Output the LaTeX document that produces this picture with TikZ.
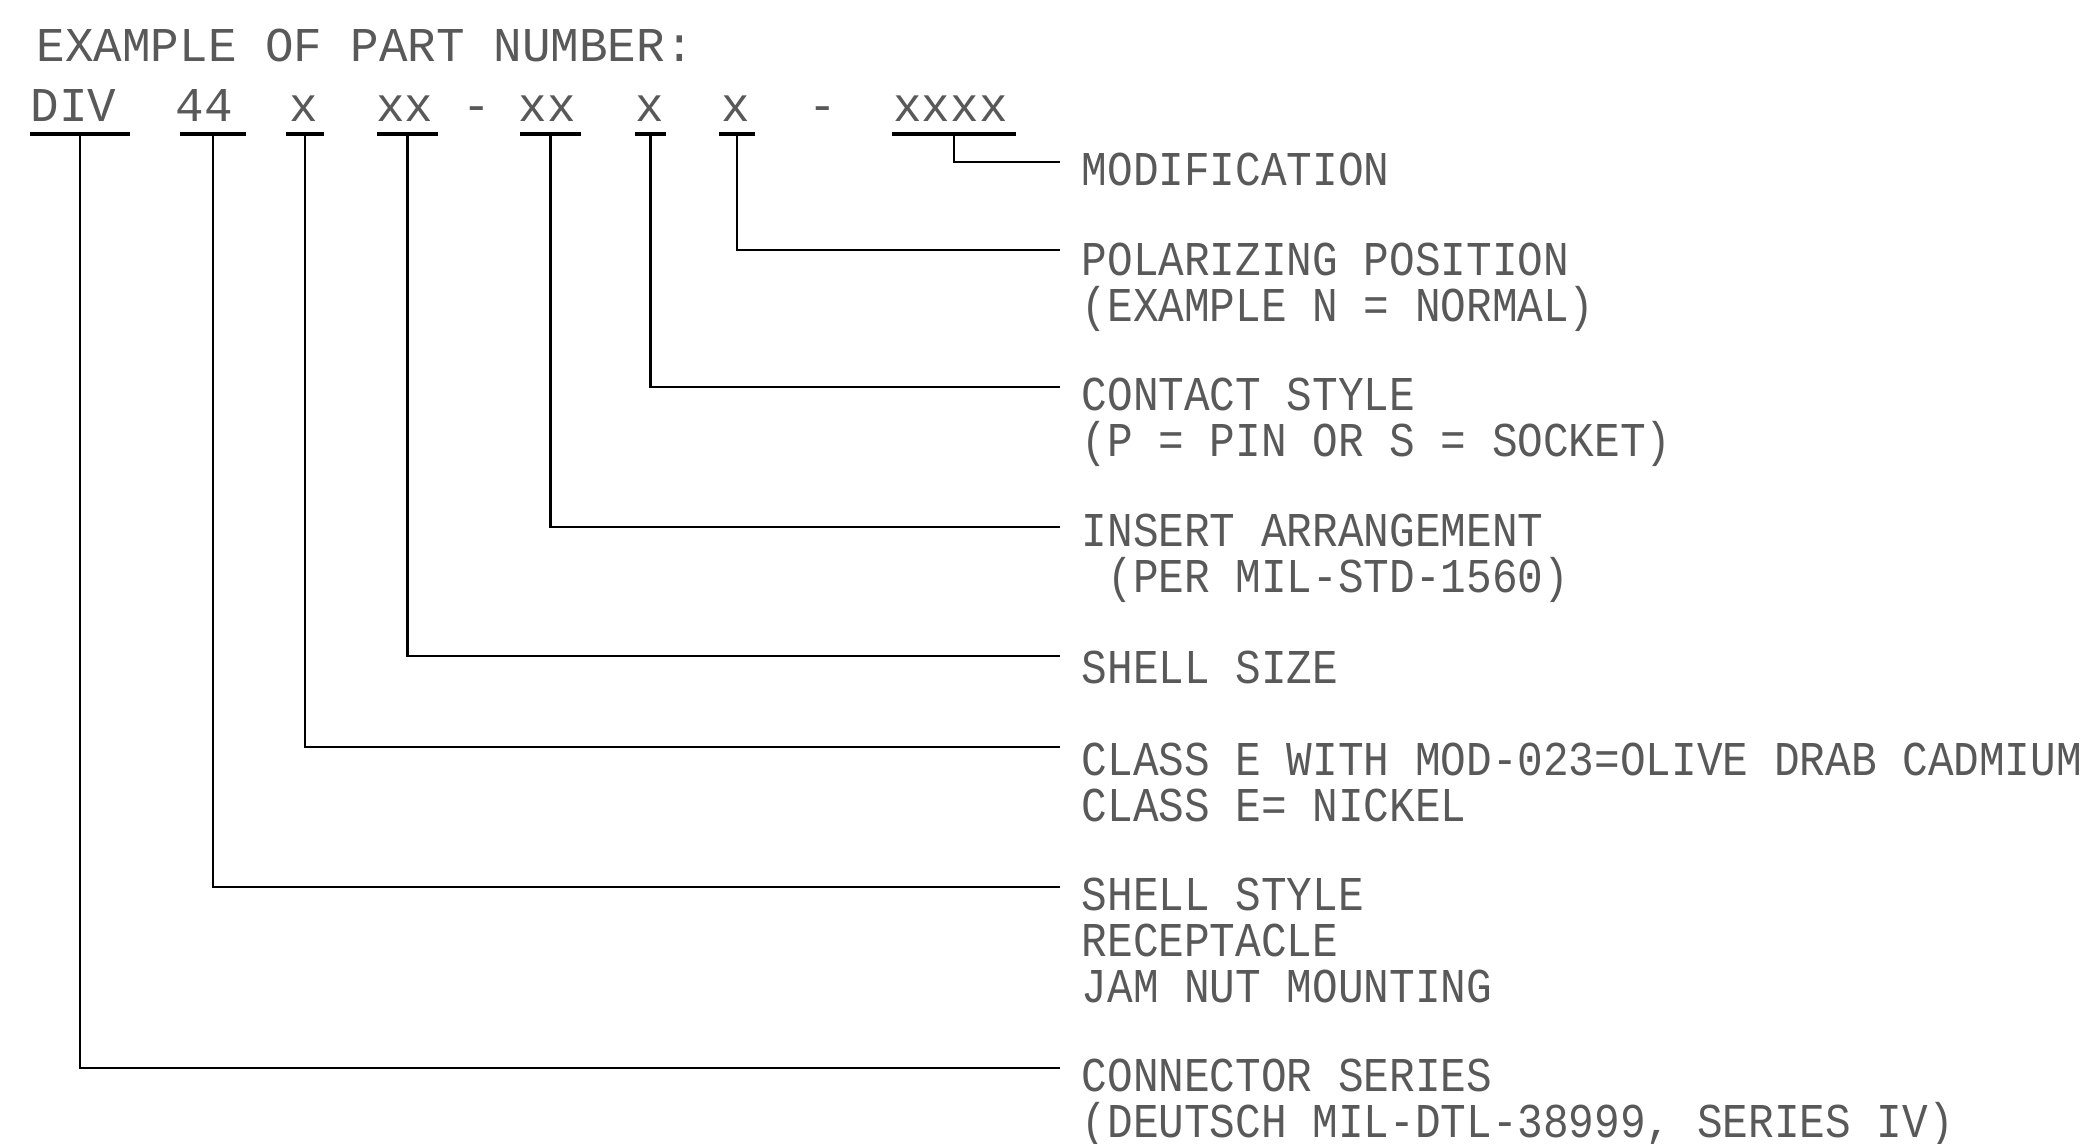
\documentclass[tikz,border=0pt]{standalone}
\usepackage{fontspec}
\newfontfamily\cadfont[FakeStretch=0.88]{Liberation Mono}
\newfontfamily\cadwide[FakeStretch=0.98]{Liberation Mono}
\newcommand\CadSize{\fontsize{13.82pt}{13.09pt}\selectfont}
\tikzset{
    pn/.style={inner sep=0pt, anchor=base, font=\cadwide\CadSize, text=black!65},
    lbl/.style={inner sep=0pt, anchor=north west, align=left, font=\cadfont\CadSize, text=black!65},
    ul/.style={line width=1.1pt},
    lead/.style={line width=0.75pt},
}
% one field of the part number, with its bar under it
\newcommand\Field[5]{%
    \node[pn] (#1) at (#2,-1.22) {#5};
    \draw[ul] (#3,-1.34) -- (#4,-1.34) coordinate[midway] (#1-u);
}
% one legend text, with the end point of its leader
\newcommand\Legend[4]{%
    \coordinate (#1-end) at (10.60,#2);
    \node[lbl] (#1) at (10.81,#3) {#4};
}

\begin{document}
\begin{tikzpicture}
    \useasboundingbox (0,0) rectangle (20.90,-11.44);
    \node[lbl, font=\cadwide\CadSize] (Title) at (0.36,-0.28) {EXAMPLE OF PART NUMBER:};
    % part number
    \Field{Series}{0.735}{0.30}{1.30}{DIV}
    \Field{Style}{2.045}{1.80}{2.46}{44}
    \Field{Class}{3.04}{2.86}{3.24}{x}
    \Field{Size}{4.05}{3.77}{4.38}{xx}
    \node[pn] (DashA) at (4.77,-1.22) {-};
    \Field{Insert}{5.475}{5.20}{5.81}{xx}
    \Field{Contact}{6.50}{6.35}{6.66}{x}
    \Field{Polar}{7.355}{7.19}{7.55}{x}
    \node[pn] (DashB) at (8.225,-1.22) {-};
    \Field{Mod}{9.505}{8.92}{10.16}{xxxx}
    % legends
    \Legend{ModTxt}{-1.62}{-1.52}{MODIFICATION}
    \Legend{PolarTxt}{-2.50}{-2.42}{POLARIZING POSITION\\(EXAMPLE N = NORMAL)}
    \Legend{ContactTxt}{-3.87}{-3.77}{CONTACT STYLE\\(P = PIN OR S = SOCKET)}
    \Legend{InsertTxt}{-5.27}{-5.13}{INSERT ARRANGEMENT\\\hphantom{X}(PER MIL-STD-1560)}
    \Legend{SizeTxt}{-6.56}{-6.50}{SHELL SIZE}
    \Legend{ClassTxt}{-7.47}{-7.42}{CLASS E WITH MOD-023=OLIVE DRAB CADMIUM\\CLASS E= NICKEL}
    \Legend{StyleTxt}{-8.87}{-8.77}{SHELL STYLE\\RECEPTACLE\\JAM NUT MOUNTING}
    \Legend{SeriesTxt}{-10.68}{-10.58}{CONNECTOR SERIES\\(DEUTSCH MIL-DTL-38999, SERIES IV)}
    % leaders
    \draw[lead] (Mod-u) |- (ModTxt-end);
    \draw[lead] (Polar-u) |- (PolarTxt-end);
    \draw[lead] (Contact-u) |- (ContactTxt-end);
    \draw[lead] (Insert-u) |- (InsertTxt-end);
    \draw[lead] (Size-u) |- (SizeTxt-end);
    \draw[lead] (Class-u) |- (ClassTxt-end);
    \draw[lead] (Style-u) |- (StyleTxt-end);
    \draw[lead] (Series-u) |- (SeriesTxt-end);
\end{tikzpicture}
\end{document}
